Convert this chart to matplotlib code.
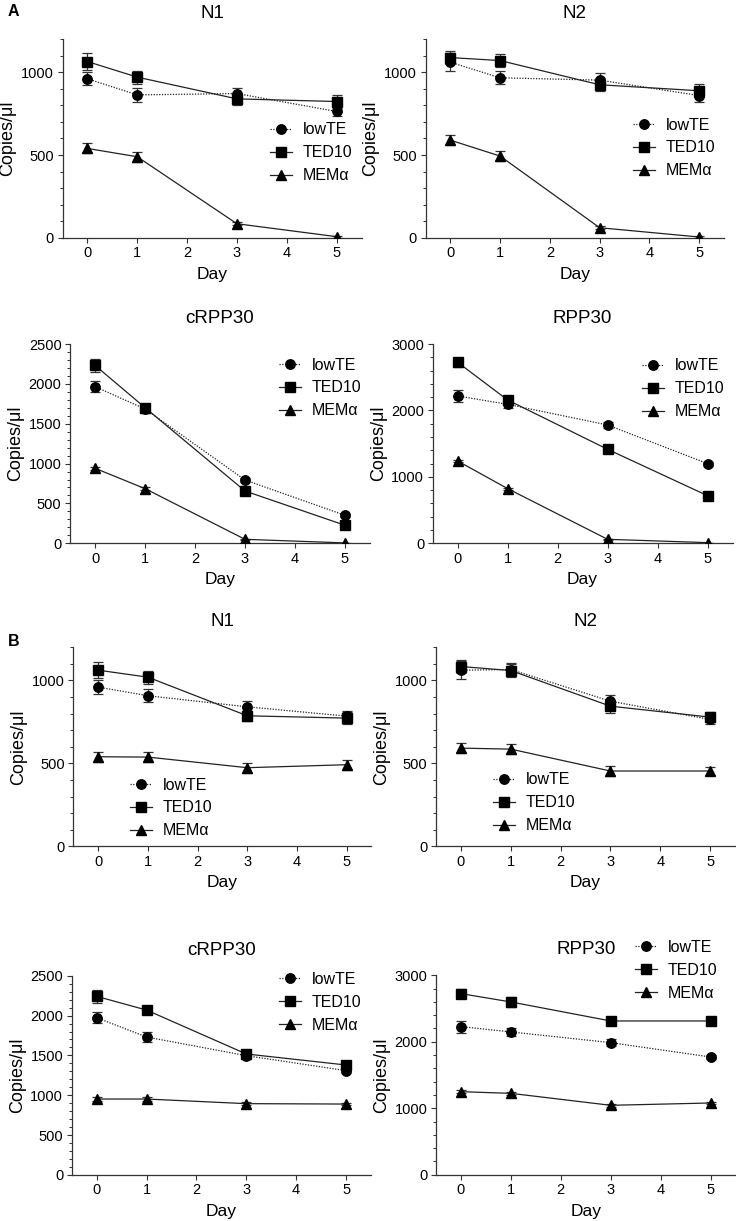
import matplotlib
matplotlib.use('Agg')
import matplotlib.pyplot as plt
from matplotlib.ticker import MultipleLocator

plt.rcParams['font.family'] = ['Liberation Sans', 'DejaVu Sans']

days = [0, 1, 3, 5]
series = ['lowTE', 'TED10', 'MEMα']

# panel A: means (lowTE, TED10, MEMα) and error bars
a_n1 = [[960, 863, 871, 763], [1064, 970, 839, 823], [540, 490, 86, 8]]
a_n1_err = [[40, 40, 35, 30], [50, 40, 35, 40], [30, 30, 8, 5]]
a_n2 = [[1060, 966, 952, 859], [1088, 1070, 924, 888], [590, 494, 62, 6]]
a_n2_err = [[55, 40, 40, 40], [40, 40, 40, 40], [30, 30, 8, 5]]
a_crpp30 = [[1965, 1685, 794, 351], [2232, 1702, 656, 226], [941, 686, 50, 5]]
a_crpp30_err = [[70, 50, 20, 15], [80, 50, 20, 10], [20, 15, 5, 2]]
a_rpp30 = [[2218, 2092, 1781, 1199], [2724, 2157, 1415, 717], [1239, 823, 60, 10]]
a_rpp30_err = [[90, 60, 40, 30], [70, 60, 30, 20], [20, 15, 5, 2]]

# panel B
b_n1 = [[960, 908, 841, 785], [1062, 1020, 787, 773], [540, 538, 474, 492]]
b_n1_err = [[40, 40, 35, 30], [50, 40, 30, 35], [30, 30, 30, 30]]
b_n2 = [[1062, 1066, 875, 765], [1084, 1060, 845, 779], [592, 586, 454, 454]]
b_n2_err = [[55, 40, 40, 30], [40, 40, 40, 30], [30, 30, 30, 25]]
b_crpp30 = [[1973, 1731, 1497, 1309], [2241, 2069, 1518, 1380], [953, 953, 895, 890]]
b_crpp30_err = [[70, 60, 40, 30], [80, 50, 40, 30], [20, 20, 15, 15]]
b_rpp30 = [[2228, 2148, 1987, 1771], [2724, 2599, 2313, 2313], [1249, 1224, 1044, 1079]]
b_rpp30_err = [[90, 60, 50, 30], [70, 70, 50, 40], [20, 20, 20, 20]]

W, H = 736, 1221
fig = plt.figure(figsize=(W / 100, H / 100), dpi=100)

styles = [dict(marker='o', ms=6.8, ls=(0, (1, 1.2))),
          dict(marker='s', ms=6.5, ls='-'),
          dict(marker='^', ms=7, ls='-')]


def panel(box, title, vals, errs, ymax, major, minor, leg):
    l, t, r, b = box
    ax = fig.add_axes([l / W, 1 - b / H, (r - l) / W, (b - t) / H])
    for i, name in enumerate(series):
        ax.errorbar(days, vals[i], yerr=errs[i], fmt='none', ecolor='#333333',
                    elinewidth=0.9, capsize=3.3, capthick=0.9, zorder=2)
        ax.plot(days, vals[i], color='#222222', lw=0.9, mfc='black', mec='black',
                label=name, zorder=3, **styles[i])
    ax.set_xlim(-0.5, 5.5)
    ax.set_ylim(0, ymax)
    ax.set_xticks(range(6))
    ax.yaxis.set_major_locator(MultipleLocator(major))
    ax.yaxis.set_minor_locator(MultipleLocator(minor))
    for s in ['top', 'right']:
        ax.spines[s].set_visible(False)
    for s in ['left', 'bottom']:
        ax.spines[s].set_linewidth(0.9)
        ax.spines[s].set_color('#333333')
    ax.tick_params(which='major', length=3.6, width=0.8, color='#333333',
                   labelsize=10.5, pad=2.5)
    ax.tick_params(which='minor', length=2.2, width=0.7, color='#333333')
    ax.set_title(title, fontsize=13.5, pad=15)
    ax.set_xlabel('Day', fontsize=12.5)
    ax.set_ylabel('Copies/μl', fontsize=13)
    ax.xaxis.set_label_coords(0.5, -29 / (b - t))
    # label coords give the right edge of the rotated label
    ax.yaxis.set_label_coords(-46 / (r - l), 0.5)
    hx, hy = leg
    ax.legend(loc='upper left', frameon=False, fontsize=11.5,
              bbox_to_anchor=((hx - l) / (r - l), (b - (hy - 7.5)) / (b - t)),
              borderpad=0, borderaxespad=0, handlelength=1.4,
              handletextpad=0.65, labelspacing=0.5)
    return ax


panel((62.5, 39, 361.5, 238), 'N1', a_n1, a_n1_err, 1200, 500, 100, (270, 130))
panel((425.5, 39, 724, 238), 'N2', a_n2, a_n2_err, 1200, 500, 100, (633, 125))
panel((70, 344, 370, 543.3), 'cRPP30', a_crpp30, a_crpp30_err, 2500, 500, 100, (279, 365))
panel((432.7, 344, 732.5, 543.3), 'RPP30', a_rpp30, a_rpp30_err, 3000, 1000, 200, (641.7, 366))
panel((73.3, 647.3, 371.5, 846.3), 'N1', b_n1, b_n1_err, 1200, 500, 100, (130, 785))
panel((436, 647.3, 735, 846.3), 'N2', b_n2, b_n2_err, 1200, 500, 100, (492.7, 780))
panel((71.7, 975.7, 371, 1175), 'cRPP30', b_crpp30, b_crpp30_err, 2500, 500, 100, (279, 979.5))
panel((436, 975.3, 735.5, 1174.7), 'RPP30', b_rpp30, b_rpp30_err, 3000, 1000, 200, (635, 947.5))

fig.text(13 / W, 1 - 11 / H, 'A', fontsize=11.5, fontweight='bold', ha='center', va='center')
fig.text(14 / W, 1 - 642 / H, 'B', fontsize=11.5, fontweight='bold', ha='center', va='center')

fig.savefig('out.png', dpi=100)
